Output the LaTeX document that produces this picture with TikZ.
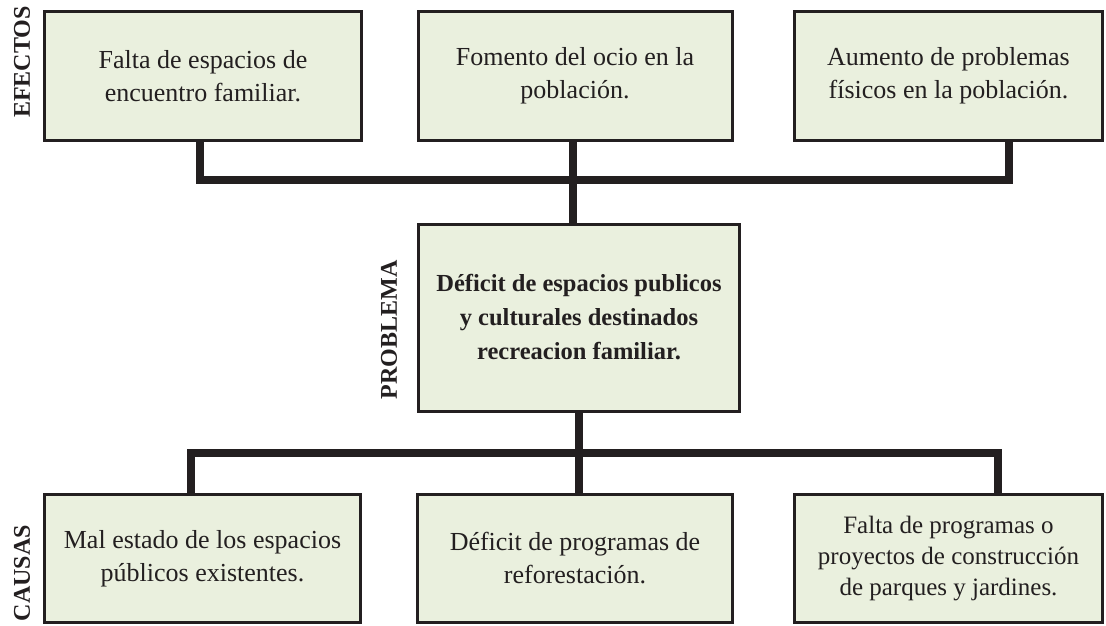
\documentclass[tikz,border=0pt]{standalone}
\usepackage{fontspec}
\setmainfont{Liberation Serif}
\definecolor{boxfill}{RGB}{234,240,222}
\definecolor{ink}{RGB}{35,31,32}
\begin{document}
\begin{tikzpicture}[x=1pt,y=-1pt,
  box/.style={draw=ink, line width=3pt, fill=boxfill, minimum height=129pt,
    inner sep=0pt, align=center, text=ink, font=\fontsize{26}{33}\selectfont},
  conn/.style={draw=ink, line width=7.5pt},
  side/.style={rotate=90, text=ink, font=\fontsize{24}{24}\selectfont\bfseries}]
\useasboundingbox (0,0) rectangle (1106,626);

% effects
\node[box, minimum width=317pt] (e1) at (203,76) {Falta de espacios de\\encuentro familiar.};
\node[box, minimum width=314pt] (e2) at (575,76) {Fomento del ocio en la\\población.};
\node[box, minimum width=308pt] (e3) at (948.5,76) {Aumento de problemas\\físicos en la población.};

% problem
\node[box, minimum width=321pt, minimum height=187pt,
  font=\fontsize{24.5}{34}\selectfont\bfseries] (p) at (579,317.5)
  {Déficit de espacios publicos\\y culturales destinados\\recreacion familiar.};

% causes
\node[box, minimum width=316pt, minimum height=128pt] (c1) at (202.5,558.5) {Mal estado de los espacios\\públicos existentes.};
\node[box, minimum width=315pt, minimum height=128pt] (c2) at (575,558.5) {Déficit de programas de\\reforestación.};
\node[box, minimum width=308pt, minimum height=128pt,
  font=\fontsize{25}{31}\selectfont] (c3) at (948.5,558.5) {Falta de programas o\\proyectos de construcción\\de parques y jardines.};

% side labels
\node[side] (le) at (22,62) {EFECTOS};
\node[side] (lp) at (389,330) {PROBLEMA};
\node[side] (lc) at (22,573) {CAUSAS};

% top connectors
\coordinate (tl) at (200,180);
\coordinate (tr) at (1009,180);
\coordinate (tm) at (573,180);
\draw[conn] (e1.south -| tl) -- (tl) -- (tr) -- (e3.south -| tr);
\draw[conn] (e2.south -| tm) -- (p.north -| tm);

% bottom connectors
\coordinate (bl) at (191,453);
\coordinate (br) at (998,453);
\draw[conn] (c1.north -| bl) -- (bl) -- (br) -- (c3.north -| br);
\draw[conn] (p.south) -- (c2.north -| p.south);
\end{tikzpicture}
\end{document}
